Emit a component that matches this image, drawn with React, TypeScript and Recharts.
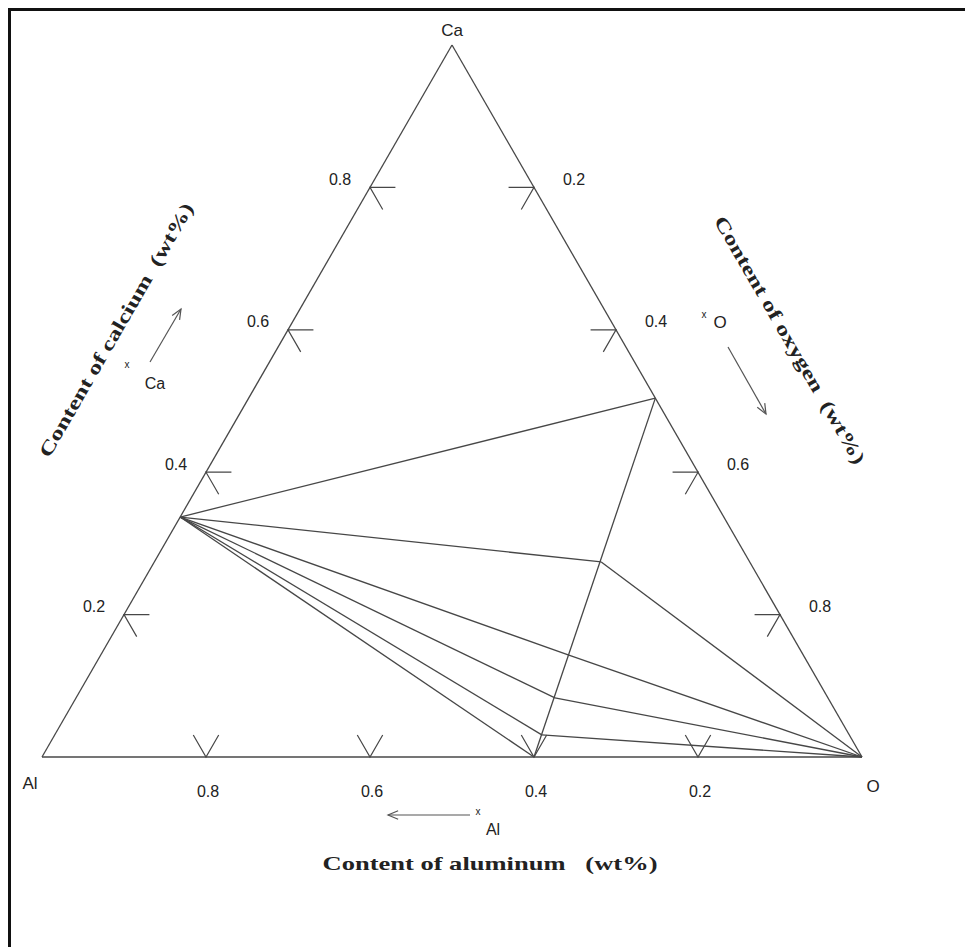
import { ScatterChart, Scatter, XAxis, YAxis } from 'recharts';

// phases on the Al-Ca-O diagram (fractions)
const phaseNames = ['Al2Ca', 'CaO', 'C3A', 'CA', 'CA2', 'CA6', 'Al2O3', 'O'];
const caContent = [0.337, 0.504, 0.274, 0.143, 0.083, 0.031, 0, 0];
const oContent = [0, 0.496, 0.545, 0.571, 0.584, 0.594, 0.6, 1];

// tie lines, as index pairs into phaseNames
const tieLines: [number, number][] = [
  [0, 1], [0, 2], [0, 3], [0, 4], [0, 5], [0, 6],
  [1, 6],
  [2, 7], [3, 7], [4, 7], [5, 7],
];

const tickValues = [0.2, 0.4, 0.6, 0.8];
const tickLabels = ['0.2', '0.4', '0.6', '0.8'];
const vertexNames = ['Ca', 'Al', 'O'];

const W = 954;
const H = 936;
const STUB = 0.031;
const LINE = '#474747';

// ternary (ca, o) -> cartesian for the chart axes
const pt = (ca: number, o: number) => ({ x: o + ca / 2, y: ca });

const phasePts = phaseNames.map((name, i) => ({ name, ...pt(caContent[i], oContent[i]) }));

const vertexPts = [pt(1, 0), pt(0, 0), pt(0, 1)];
const edges = [[0, 1], [1, 2], [2, 0]];

const leftTicks = tickValues.map((t) => [pt(t, STUB), pt(t, 0), pt(t - STUB, STUB)]);
const rightTicks = tickValues.map((t) => [pt(1 - t, t - STUB), pt(1 - t, t), pt(1 - t - STUB, t)]);
const bottomTicks = tickValues.map((t) => [pt(STUB, 1 - t - STUB), pt(0, 1 - t), pt(STUB, 1 - t)]);

const leftLabels = tickValues.map((t, i) => ({ ...pt(t, 0), label: tickLabels[i] }));
const rightLabels = tickValues.map((t, i) => ({ ...pt(1 - t, t), label: tickLabels[i] }));
const bottomLabels = tickValues.map((t, i) => ({ ...pt(0, 1 - t), label: tickLabels[i] }));
const vertexLabels = vertexPts.map((p, i) => ({ ...p, label: vertexNames[i] }));
const vertexOffsets: Record<string, [number, number]> = { Ca: [0, -15], Al: [-12, 26], O: [11, 29] };

const sans = "'Liberation Sans', Arial, sans-serif";

const noMark = () => <g />;

const textShape = (dx: number, dy: number, size = 16) => (props: any) => (
  <text
    x={props.cx + dx}
    y={props.cy + dy}
    textAnchor="middle"
    dominantBaseline="central"
    fontFamily={sans}
    fontSize={size}
    fill="#222"
  >
    {props.payload.label}
  </text>
);

const vertexShape = (props: any) => {
  const [dx, dy] = vertexOffsets[props.payload.label];
  return (
    <text
      x={props.cx + dx}
      y={props.cy + dy}
      textAnchor="middle"
      dominantBaseline="central"
      fontFamily={sans}
      fontSize={17}
      fill="#222"
    >
      {props.payload.label}
    </text>
  );
};

function Arrow({ x1, y1, x2, y2 }: { x1: number; y1: number; x2: number; y2: number }) {
  const a = Math.atan2(y2 - y1, x2 - x1);
  const L = 11;
  const h1 = [x2 - L * Math.cos(a - 0.4), y2 - L * Math.sin(a - 0.4)];
  const h2 = [x2 - L * Math.cos(a + 0.4), y2 - L * Math.sin(a + 0.4)];
  return (
    <g stroke="#555" strokeWidth={1.2} fill="none">
      <line x1={x1} y1={y1} x2={x2} y2={y2} />
      <polyline points={`${h1[0]},${h1[1]} ${x2},${y2} ${h2[0]},${h2[1]}`} />
    </g>
  );
}

const titleStyle = {
  fontFamily: "'Liberation Serif', 'Times New Roman', serif",
  fontWeight: 700,
  fontSize: 19,
  fill: '#222',
  whiteSpace: 'pre' as const,
};

export default function App() {
  return (
    <div
      style={{
        position: 'absolute',
        left: 8,
        top: 8,
        width: 957,
        height: 939,
        borderTop: '3px solid #111',
        borderLeft: '3px solid #111',
        boxSizing: 'border-box',
        background: '#fff',
        overflow: 'hidden',
      }}
    >
      {/* chart origin is page (11,11); plot box spans x 42..862, y 45..757 */}
      <ScatterChart width={W} height={H} margin={{ top: 34, right: 103, bottom: 190, left: 31 }}>
        <XAxis type="number" dataKey="x" domain={[0, 1]} hide />
        <YAxis type="number" dataKey="y" domain={[0, 1]} hide />
        {edges.map(([a, b], i) => (
          <Scatter
            key={`e${i}`}
            data={[vertexPts[a], vertexPts[b]]}
            line={{ stroke: LINE, strokeWidth: 1.3 }}
            shape={noMark}
            isAnimationActive={false}
          />
        ))}
        {[...leftTicks, ...rightTicks, ...bottomTicks].map((d, i) => (
          <Scatter
            key={`t${i}`}
            data={d}
            line={{ stroke: LINE, strokeWidth: 1.2 }}
            shape={noMark}
            isAnimationActive={false}
          />
        ))}
        {tieLines.map(([a, b], i) => (
          <Scatter
            key={`l${i}`}
            data={[phasePts[a], phasePts[b]]}
            line={{ stroke: LINE, strokeWidth: 1.3 }}
            shape={noMark}
            isAnimationActive={false}
          />
        ))}
        <Scatter data={leftLabels} shape={textShape(-30, -8)} isAnimationActive={false} />
        <Scatter data={rightLabels} shape={textShape(40, -8)} isAnimationActive={false} />
        <Scatter data={bottomLabels} shape={textShape(2, 34)} isAnimationActive={false} />
        <Scatter data={vertexLabels} shape={vertexShape} isAnimationActive={false} />
      </ScatterChart>
      <svg
        width={W}
        height={H}
        style={{ position: 'absolute', left: 0, top: 0, pointerEvents: 'none' }}
      >
        <g transform="translate(-11,-11)">
          <text
            transform="translate(116,330) rotate(-60)"
            textAnchor="middle"
            dominantBaseline="central"
            textLength={290}
            lengthAdjust="spacingAndGlyphs"
            style={titleStyle}
          >
            {'Content of calcium  (wt%)'}
          </text>
          <text
            transform="translate(790,340) rotate(60)"
            textAnchor="middle"
            dominantBaseline="central"
            textLength={283}
            lengthAdjust="spacingAndGlyphs"
            style={titleStyle}
          >
            {'Content of oxygen  (wt%)'}
          </text>
          <text
            x={490}
            y={863}
            textAnchor="middle"
            dominantBaseline="central"
            textLength={335}
            lengthAdjust="spacingAndGlyphs"
            style={titleStyle}
          >
            {'Content of aluminum   (wt%)'}
          </text>

          <Arrow x1={150} y1={362} x2={181} y2={309} />
          <text x={127} y={368} fontFamily={sans} fontSize={10} fill="#222" textAnchor="middle">x</text>
          <text x={155} y={389} fontFamily={sans} fontSize={16} fill="#222" textAnchor="middle">Ca</text>

          <Arrow x1={728} y1={347} x2={766} y2={414} />
          <text x={704} y={318} fontFamily={sans} fontSize={10} fill="#222" textAnchor="middle">x</text>
          <text x={720} y={328} fontFamily={sans} fontSize={17} fill="#222" textAnchor="middle">O</text>

          <Arrow x1={470} y1={815} x2={388} y2={815} />
          <text x={478} y={815} fontFamily={sans} fontSize={10} fill="#222" textAnchor="middle">x</text>
          <text x={493} y={835} fontFamily={sans} fontSize={16} fill="#222" textAnchor="middle">Al</text>
        </g>
      </svg>
    </div>
  );
}
